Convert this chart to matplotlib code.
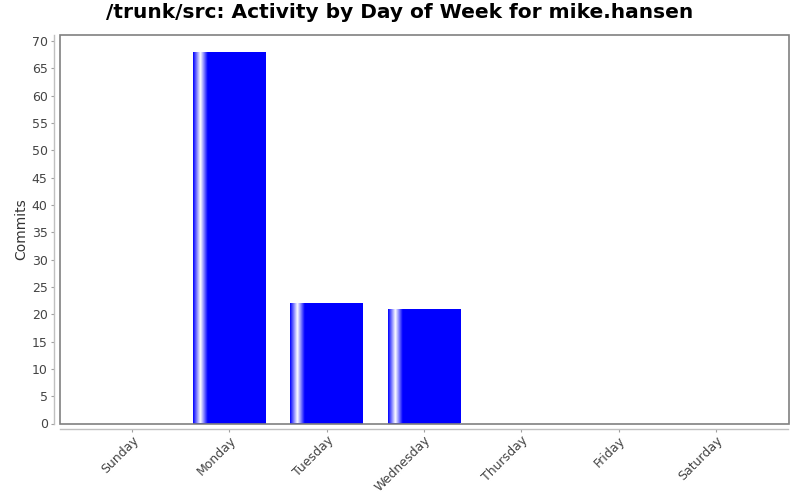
import matplotlib
matplotlib.use("Agg")
import matplotlib.pyplot as plt
import numpy as np
from matplotlib.patches import Rectangle

days = ["Sunday", "Monday", "Tuesday", "Wednesday", "Thursday", "Friday", "Saturday"]
commits = [0, 68, 22, 21, 0, 0, 0]
yticks = list(range(0, 75, 5))

plt.rcParams['font.family'] = ['DejaVu Sans']
fig = plt.figure(figsize=(8, 5), dpi=100)
W, H = 800, 500
l, r, t, b = 59.5, 788.5, 34.5, 423.5
ax = fig.add_axes([l / W, (H - b) / H, (r - l) / W, (b - t) / H])
ax.set_facecolor('white')

x = np.arange(len(days))
bw = 0.75
bars = ax.bar(x, commits, width=bw, color='#0000ff', edgecolor='none', zorder=2)

# gradient like JFreeChart GradientBarPainter (g1=0.10, g2=0.20)
n = 200
pos = np.linspace(0, 1, n)
blue = np.array([0.0, 0.0, 1.0])
white = np.array([1.0, 1.0, 1.0])
w = np.zeros(n)
m1 = pos < 0.10
w[m1] = pos[m1] / 0.10
m2 = (pos >= 0.10) & (pos < 0.20)
w[m2] = 1 - (pos[m2] - 0.10) / 0.10
grad = blue[None, :] * (1 - w[:, None]) + white[None, :] * w[:, None]
grad = grad[None, :, :]
for bar in bars:
    h = bar.get_height()
    if h <= 0:
        continue
    x0 = bar.get_x()
    im = ax.imshow(grad, extent=[x0, x0 + bar.get_width(), 0, h], aspect='auto',
                   interpolation='bilinear', zorder=3)
    im.set_clip_path(bar)

for s in ['top', 'right']:
    ax.spines[s].set_visible(False)
for s in ['left', 'bottom']:
    ax.spines[s].set_position(('outward', 4))
    ax.spines[s].set_color('#c0c0c0')
    ax.spines[s].set_linewidth(1)

ax.set_xlim(-0.745, 6.745)
ax.set_ylim(0, 71.2)
ax.set_yticks(yticks)
ax.set_xticks(x)
ax.set_xticklabels(days, rotation=45, ha='right', va='top', rotation_mode='anchor')

ax.add_patch(Rectangle((0, 0), 1, 1, transform=ax.transAxes, fill=False,
                       edgecolor='#808080', lw=1.2, clip_on=False, zorder=5))

ax.tick_params(axis='both', colors='#a0a0a0', length=2.5, width=0.8,
               labelsize=9, labelcolor='#444444')
ax.tick_params(axis='x', pad=1)
ax.tick_params(axis='y', pad=2)

ax.set_ylabel("Commits", fontsize=10, color='#333333', labelpad=2.5)
fig.text(0.5, 1 - 13 / H, "/trunk/src: Activity by Day of Week for mike.hansen",
         ha='center', va='center', fontsize=14.5, fontweight='bold', color='black')

fig.savefig("out.png", dpi=100)
